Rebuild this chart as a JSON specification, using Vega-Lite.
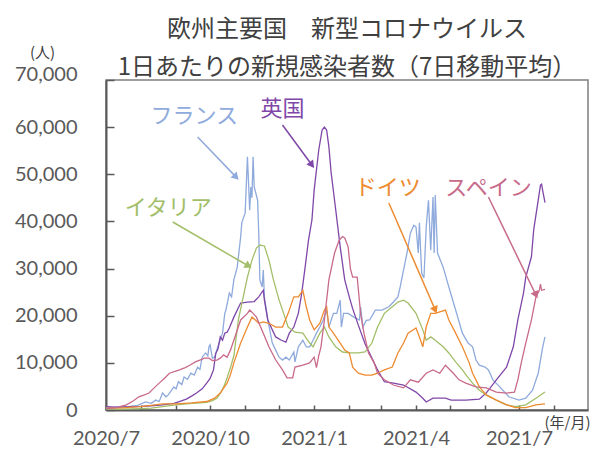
{
  "$schema": "https://vega.github.io/schema/vega-lite/v6.json",
  "width": 482,
  "height": 330,
  "autosize": {"type": "none"},
  "padding": {"left": 106, "top": 80, "right": 5, "bottom": 42},
  "background": "white",
  "title": {
    "text": ["欧州主要国　新型コロナウイルス", "1日あたりの新規感染者数（7日移動平均）"],
    "font": "Noto Sans CJK JP",
    "fontSize": 24,
    "fontWeight": "normal",
    "color": "#404040",
    "lineHeight": 38,
    "anchor": "middle",
    "offset": -35
  },
  "config": {"view": {"stroke": "#7f7f7f", "strokeWidth": 1.5}},
  "datasets": {
    "cases": [
      {"c":"fr","d":"2020-07-01","v":500},{"c":"fr","d":"2020-07-08","v":550},{"c":"fr","d":"2020-07-15","v":650},{"c":"fr","d":"2020-07-22","v":750},{"c":"fr","d":"2020-07-29","v":1000},
      {"c":"fr","d":"2020-08-05","v":1700},{"c":"fr","d":"2020-08-10","v":1400},{"c":"fr","d":"2020-08-14","v":2100},{"c":"fr","d":"2020-08-17","v":1800},{"c":"fr","d":"2020-08-20","v":3600},
      {"c":"fr","d":"2020-08-23","v":2800},{"c":"fr","d":"2020-08-25","v":3200},{"c":"fr","d":"2020-08-28","v":4200},{"c":"fr","d":"2020-08-30","v":4900},{"c":"fr","d":"2020-09-01","v":4500},
      {"c":"fr","d":"2020-09-03","v":6000},{"c":"fr","d":"2020-09-06","v":5400},{"c":"fr","d":"2020-09-08","v":7000},{"c":"fr","d":"2020-09-11","v":6500},{"c":"fr","d":"2020-09-14","v":7800},
      {"c":"fr","d":"2020-09-17","v":7400},{"c":"fr","d":"2020-09-20","v":9100},{"c":"fr","d":"2020-09-22","v":8600},{"c":"fr","d":"2020-09-24","v":11200},{"c":"fr","d":"2020-09-27","v":12100},
      {"c":"fr","d":"2020-09-29","v":11500},{"c":"fr","d":"2020-09-30","v":13400},{"c":"fr","d":"2020-10-01","v":13800},{"c":"fr","d":"2020-10-03","v":11000},{"c":"fr","d":"2020-10-05","v":11200},
      {"c":"fr","d":"2020-10-07","v":12800},{"c":"fr","d":"2020-10-09","v":14200},{"c":"fr","d":"2020-10-12","v":16300},{"c":"fr","d":"2020-10-14","v":20500},{"c":"fr","d":"2020-10-15","v":21200},
      {"c":"fr","d":"2020-10-18","v":24800},{"c":"fr","d":"2020-10-20","v":24000},{"c":"fr","d":"2020-10-22","v":27600},{"c":"fr","d":"2020-10-25","v":30300},{"c":"fr","d":"2020-10-28","v":36700},
      {"c":"fr","d":"2020-10-29","v":39700},{"c":"fr","d":"2020-11-01","v":41800},{"c":"fr","d":"2020-11-03","v":53700},{"c":"fr","d":"2020-11-05","v":42400},{"c":"fr","d":"2020-11-06","v":47300},
      {"c":"fr","d":"2020-11-07","v":45000},{"c":"fr","d":"2020-11-08","v":53700},{"c":"fr","d":"2020-11-09","v":47300},{"c":"fr","d":"2020-11-12","v":44500},{"c":"fr","d":"2020-11-13","v":37500},
      {"c":"fr","d":"2020-11-14","v":27600},{"c":"fr","d":"2020-11-16","v":26100},{"c":"fr","d":"2020-11-17","v":29700},{"c":"fr","d":"2020-11-18","v":24000},{"c":"fr","d":"2020-11-21","v":19100},
      {"c":"fr","d":"2020-11-25","v":14200},{"c":"fr","d":"2020-11-28","v":12700},{"c":"fr","d":"2020-12-01","v":11200},{"c":"fr","d":"2020-12-04","v":10600},{"c":"fr","d":"2020-12-07","v":11200},
      {"c":"fr","d":"2020-12-10","v":10600},{"c":"fr","d":"2020-12-14","v":12300},{"c":"fr","d":"2020-12-15","v":10200},{"c":"fr","d":"2020-12-18","v":13400},{"c":"fr","d":"2020-12-22","v":14800},
      {"c":"fr","d":"2020-12-25","v":13400},{"c":"fr","d":"2020-12-28","v":13400},{"c":"fr","d":"2020-12-31","v":14800},{"c":"fr","d":"2021-01-03","v":16300},{"c":"fr","d":"2021-01-06","v":17600},
      {"c":"fr","d":"2021-01-09","v":19100},{"c":"fr","d":"2021-01-12","v":21200},{"c":"fr","d":"2021-01-14","v":17600},{"c":"fr","d":"2021-01-18","v":20500},{"c":"fr","d":"2021-01-21","v":20500},
      {"c":"fr","d":"2021-01-24","v":23300},{"c":"fr","d":"2021-01-25","v":17600},{"c":"fr","d":"2021-01-27","v":20500},{"c":"fr","d":"2021-01-31","v":20500},{"c":"fr","d":"2021-02-05","v":19700},
      {"c":"fr","d":"2021-02-10","v":19100},{"c":"fr","d":"2021-02-11","v":21900},{"c":"fr","d":"2021-02-13","v":17600},{"c":"fr","d":"2021-02-16","v":19000},{"c":"fr","d":"2021-02-19","v":19100},
      {"c":"fr","d":"2021-02-24","v":21200},{"c":"fr","d":"2021-03-02","v":21200},{"c":"fr","d":"2021-03-08","v":21900},{"c":"fr","d":"2021-03-12","v":22900},{"c":"fr","d":"2021-03-16","v":24000},
      {"c":"fr","d":"2021-03-18","v":26100},{"c":"fr","d":"2021-03-21","v":29700},{"c":"fr","d":"2021-03-24","v":33300},{"c":"fr","d":"2021-03-27","v":37500},{"c":"fr","d":"2021-03-30","v":39200},
      {"c":"fr","d":"2021-04-01","v":38800},{"c":"fr","d":"2021-04-03","v":33300},{"c":"fr","d":"2021-04-04","v":39700},{"c":"fr","d":"2021-04-06","v":29000},{"c":"fr","d":"2021-04-08","v":28000},
      {"c":"fr","d":"2021-04-10","v":38800},{"c":"fr","d":"2021-04-12","v":44500},{"c":"fr","d":"2021-04-14","v":33900},{"c":"fr","d":"2021-04-16","v":45200},{"c":"fr","d":"2021-04-17","v":33300},
      {"c":"fr","d":"2021-04-18","v":45600},{"c":"fr","d":"2021-04-20","v":33300},{"c":"fr","d":"2021-04-25","v":30300},{"c":"fr","d":"2021-04-30","v":26100},{"c":"fr","d":"2021-05-06","v":21200},
      {"c":"fr","d":"2021-05-12","v":16300},{"c":"fr","d":"2021-05-17","v":14200},{"c":"fr","d":"2021-05-21","v":13400},{"c":"fr","d":"2021-05-24","v":10600},{"c":"fr","d":"2021-05-27","v":9500},
      {"c":"fr","d":"2021-06-01","v":9100},{"c":"fr","d":"2021-06-04","v":8500},{"c":"fr","d":"2021-06-08","v":6400},{"c":"fr","d":"2021-06-14","v":4900},{"c":"fr","d":"2021-06-22","v":2800},
      {"c":"fr","d":"2021-07-01","v":2100},{"c":"fr","d":"2021-07-07","v":2500},{"c":"fr","d":"2021-07-13","v":4200},{"c":"fr","d":"2021-07-18","v":7800},{"c":"fr","d":"2021-07-22","v":13400},
      {"c":"fr","d":"2021-07-24","v":15500},

      {"c":"uk","d":"2020-07-01","v":700},{"c":"uk","d":"2020-07-10","v":600},{"c":"uk","d":"2020-07-20","v":650},{"c":"uk","d":"2020-08-01","v":750},{"c":"uk","d":"2020-08-10","v":900},
      {"c":"uk","d":"2020-08-20","v":1100},{"c":"uk","d":"2020-08-30","v":1400},{"c":"uk","d":"2020-09-05","v":1900},{"c":"uk","d":"2020-09-10","v":2300},{"c":"uk","d":"2020-09-15","v":3000},
      {"c":"uk","d":"2020-09-19","v":3600},{"c":"uk","d":"2020-09-24","v":4500},{"c":"uk","d":"2020-09-28","v":5700},{"c":"uk","d":"2020-10-01","v":6700},{"c":"uk","d":"2020-10-04","v":8500},
      {"c":"uk","d":"2020-10-06","v":12000},{"c":"uk","d":"2020-10-08","v":13000},{"c":"uk","d":"2020-10-10","v":15500},{"c":"uk","d":"2020-10-12","v":14800},{"c":"uk","d":"2020-10-14","v":16300},
      {"c":"uk","d":"2020-10-16","v":16500},{"c":"uk","d":"2020-10-18","v":17400},{"c":"uk","d":"2020-10-22","v":19700},{"c":"uk","d":"2020-10-28","v":22700},{"c":"uk","d":"2020-11-03","v":22900},
      {"c":"uk","d":"2020-11-09","v":23000},{"c":"uk","d":"2020-11-13","v":24000},{"c":"uk","d":"2020-11-17","v":25400},{"c":"uk","d":"2020-11-18","v":23300},{"c":"uk","d":"2020-11-21","v":19100},
      {"c":"uk","d":"2020-11-25","v":17000},{"c":"uk","d":"2020-11-28","v":15500},{"c":"uk","d":"2020-12-03","v":14800},{"c":"uk","d":"2020-12-07","v":14400},{"c":"uk","d":"2020-12-10","v":16300},
      {"c":"uk","d":"2020-12-14","v":17600},{"c":"uk","d":"2020-12-18","v":20500},{"c":"uk","d":"2020-12-21","v":24800},{"c":"uk","d":"2020-12-24","v":30300},{"c":"uk","d":"2020-12-27","v":36100},
      {"c":"uk","d":"2020-12-30","v":40300},{"c":"uk","d":"2021-01-01","v":46700},{"c":"uk","d":"2021-01-05","v":55100},{"c":"uk","d":"2021-01-08","v":59400},{"c":"uk","d":"2021-01-10","v":60000},
      {"c":"uk","d":"2021-01-12","v":59400},{"c":"uk","d":"2021-01-14","v":55800},{"c":"uk","d":"2021-01-16","v":50300},{"c":"uk","d":"2021-01-19","v":44500},{"c":"uk","d":"2021-01-24","v":34600},
      {"c":"uk","d":"2021-01-28","v":27600},{"c":"uk","d":"2021-02-01","v":24000},{"c":"uk","d":"2021-02-04","v":21500},{"c":"uk","d":"2021-02-09","v":18000},{"c":"uk","d":"2021-02-15","v":14000},
      {"c":"uk","d":"2021-02-21","v":11000},{"c":"uk","d":"2021-02-26","v":8500},{"c":"uk","d":"2021-03-04","v":6000},{"c":"uk","d":"2021-03-12","v":5700},{"c":"uk","d":"2021-03-21","v":5300},
      {"c":"uk","d":"2021-04-01","v":3800},{"c":"uk","d":"2021-04-07","v":2500},{"c":"uk","d":"2021-04-10","v":1700},{"c":"uk","d":"2021-04-16","v":2500},{"c":"uk","d":"2021-04-27","v":2500},
      {"c":"uk","d":"2021-05-02","v":2100},{"c":"uk","d":"2021-05-15","v":2100},{"c":"uk","d":"2021-05-27","v":2300},{"c":"uk","d":"2021-06-02","v":3600},{"c":"uk","d":"2021-06-11","v":6400},
      {"c":"uk","d":"2021-06-20","v":9100},{"c":"uk","d":"2021-06-26","v":13400},{"c":"uk","d":"2021-06-30","v":19100},{"c":"uk","d":"2021-07-05","v":24800},{"c":"uk","d":"2021-07-07","v":28200},
      {"c":"uk","d":"2021-07-12","v":32500},{"c":"uk","d":"2021-07-14","v":38200},{"c":"uk","d":"2021-07-18","v":44500},{"c":"uk","d":"2021-07-20","v":47700},{"c":"uk","d":"2021-07-21","v":47900},
      {"c":"uk","d":"2021-07-22","v":46500},{"c":"uk","d":"2021-07-24","v":44000},

      {"c":"it","d":"2020-07-01","v":200},{"c":"it","d":"2020-07-15","v":200},{"c":"it","d":"2020-07-31","v":300},{"c":"it","d":"2020-08-10","v":400},{"c":"it","d":"2020-08-20","v":700},
      {"c":"it","d":"2020-09-01","v":1100},{"c":"it","d":"2020-09-15","v":1400},{"c":"it","d":"2020-09-28","v":1600},{"c":"it","d":"2020-10-03","v":2000},{"c":"it","d":"2020-10-07","v":2500},
      {"c":"it","d":"2020-10-10","v":3500},{"c":"it","d":"2020-10-13","v":4900},{"c":"it","d":"2020-10-16","v":6800},{"c":"it","d":"2020-10-19","v":9000},{"c":"it","d":"2020-10-22","v":11500},
      {"c":"it","d":"2020-10-26","v":19100},{"c":"it","d":"2020-10-31","v":24800},{"c":"it","d":"2020-11-03","v":28200},{"c":"it","d":"2020-11-07","v":31800},{"c":"it","d":"2020-11-11","v":34400},
      {"c":"it","d":"2020-11-14","v":35000},{"c":"it","d":"2020-11-18","v":34800},{"c":"it","d":"2020-11-22","v":31800},{"c":"it","d":"2020-11-26","v":27600},{"c":"it","d":"2020-12-01","v":23300},
      {"c":"it","d":"2020-12-05","v":20500},{"c":"it","d":"2020-12-09","v":17600},{"c":"it","d":"2020-12-15","v":16500},{"c":"it","d":"2020-12-22","v":16300},{"c":"it","d":"2020-12-28","v":14200},
      {"c":"it","d":"2020-12-31","v":13400},{"c":"it","d":"2021-01-06","v":16300},{"c":"it","d":"2021-01-10","v":17600},{"c":"it","d":"2021-01-14","v":15500},{"c":"it","d":"2021-01-20","v":13400},
      {"c":"it","d":"2021-01-26","v":12300},{"c":"it","d":"2021-02-01","v":12100},{"c":"it","d":"2021-02-09","v":12100},{"c":"it","d":"2021-02-15","v":12300},{"c":"it","d":"2021-02-21","v":14200},
      {"c":"it","d":"2021-02-26","v":17600},{"c":"it","d":"2021-03-04","v":20500},{"c":"it","d":"2021-03-11","v":21900},{"c":"it","d":"2021-03-16","v":22900},{"c":"it","d":"2021-03-21","v":23300},
      {"c":"it","d":"2021-03-25","v":22700},{"c":"it","d":"2021-04-01","v":20500},{"c":"it","d":"2021-04-07","v":17000},{"c":"it","d":"2021-04-10","v":14800},{"c":"it","d":"2021-04-14","v":15500},
      {"c":"it","d":"2021-04-18","v":14800},{"c":"it","d":"2021-04-25","v":13400},{"c":"it","d":"2021-04-30","v":12100},{"c":"it","d":"2021-05-06","v":10200},{"c":"it","d":"2021-05-12","v":8500},
      {"c":"it","d":"2021-05-16","v":7200},{"c":"it","d":"2021-05-21","v":5700},{"c":"it","d":"2021-05-27","v":4200},{"c":"it","d":"2021-06-02","v":3200},{"c":"it","d":"2021-06-11","v":2100},
      {"c":"it","d":"2021-06-20","v":1100},{"c":"it","d":"2021-06-28","v":700},{"c":"it","d":"2021-07-07","v":1100},{"c":"it","d":"2021-07-16","v":2500},{"c":"it","d":"2021-07-24","v":3800},

      {"c":"de","d":"2020-07-01","v":400},{"c":"de","d":"2020-07-15","v":450},{"c":"de","d":"2020-07-31","v":700},{"c":"de","d":"2020-08-10","v":1000},{"c":"de","d":"2020-08-20","v":1300},
      {"c":"de","d":"2020-09-01","v":1300},{"c":"de","d":"2020-09-15","v":1500},{"c":"de","d":"2020-09-28","v":1800},{"c":"de","d":"2020-10-05","v":2500},{"c":"de","d":"2020-10-10","v":3600},
      {"c":"de","d":"2020-10-16","v":5700},{"c":"de","d":"2020-10-19","v":7500},{"c":"de","d":"2020-10-22","v":10000},{"c":"de","d":"2020-10-28","v":14200},{"c":"de","d":"2020-11-03","v":17600},
      {"c":"de","d":"2020-11-07","v":19700},{"c":"de","d":"2020-11-10","v":19100},{"c":"de","d":"2020-11-13","v":18400},{"c":"de","d":"2020-11-17","v":18700},{"c":"de","d":"2020-11-22","v":18400},
      {"c":"de","d":"2020-11-28","v":17600},{"c":"de","d":"2020-12-04","v":17600},{"c":"de","d":"2020-12-09","v":20500},{"c":"de","d":"2020-12-14","v":24000},{"c":"de","d":"2020-12-18","v":24000},
      {"c":"de","d":"2020-12-22","v":25400},{"c":"de","d":"2020-12-25","v":21900},{"c":"de","d":"2020-12-28","v":19100},{"c":"de","d":"2021-01-01","v":17000},{"c":"de","d":"2021-01-06","v":18400},
      {"c":"de","d":"2021-01-10","v":21200},{"c":"de","d":"2021-01-12","v":21900},{"c":"de","d":"2021-01-14","v":17600},{"c":"de","d":"2021-01-18","v":16300},{"c":"de","d":"2021-01-24","v":14200},
      {"c":"de","d":"2021-01-28","v":12700},{"c":"de","d":"2021-02-01","v":12100},{"c":"de","d":"2021-02-04","v":9100},{"c":"de","d":"2021-02-09","v":7800},{"c":"de","d":"2021-02-15","v":7400},
      {"c":"de","d":"2021-02-21","v":7400},{"c":"de","d":"2021-02-26","v":7800},{"c":"de","d":"2021-03-04","v":8500},{"c":"de","d":"2021-03-11","v":9100},{"c":"de","d":"2021-03-16","v":12100},
      {"c":"de","d":"2021-03-21","v":14200},{"c":"de","d":"2021-03-25","v":16300},{"c":"de","d":"2021-04-01","v":17400},{"c":"de","d":"2021-04-04","v":15500},{"c":"de","d":"2021-04-07","v":13400},
      {"c":"de","d":"2021-04-10","v":17600},{"c":"de","d":"2021-04-14","v":20500},{"c":"de","d":"2021-04-18","v":20500},{"c":"de","d":"2021-04-22","v":20800},{"c":"de","d":"2021-04-27","v":21200},
      {"c":"de","d":"2021-04-30","v":19100},{"c":"de","d":"2021-05-06","v":16300},{"c":"de","d":"2021-05-12","v":13400},{"c":"de","d":"2021-05-18","v":10000},{"c":"de","d":"2021-05-21","v":7800},
      {"c":"de","d":"2021-05-27","v":4900},{"c":"de","d":"2021-06-02","v":3200},{"c":"de","d":"2021-06-11","v":2100},{"c":"de","d":"2021-06-20","v":1100},{"c":"de","d":"2021-06-28","v":500},
      {"c":"de","d":"2021-07-07","v":500},{"c":"de","d":"2021-07-16","v":1100},{"c":"de","d":"2021-07-24","v":1300},

      {"c":"es","d":"2020-07-01","v":300},{"c":"es","d":"2020-07-10","v":500},{"c":"es","d":"2020-07-19","v":1100},{"c":"es","d":"2020-07-25","v":1900},{"c":"es","d":"2020-07-30","v":2800},
      {"c":"es","d":"2020-08-04","v":3200},{"c":"es","d":"2020-08-08","v":3600},{"c":"es","d":"2020-08-13","v":4800},{"c":"es","d":"2020-08-17","v":5700},{"c":"es","d":"2020-08-22","v":6800},
      {"c":"es","d":"2020-08-26","v":7800},{"c":"es","d":"2020-08-31","v":8200},{"c":"es","d":"2020-09-04","v":8500},{"c":"es","d":"2020-09-09","v":9000},{"c":"es","d":"2020-09-13","v":9500},
      {"c":"es","d":"2020-09-18","v":10200},{"c":"es","d":"2020-09-22","v":10600},{"c":"es","d":"2020-09-26","v":11000},{"c":"es","d":"2020-09-30","v":11000},{"c":"es","d":"2020-10-03","v":10500},
      {"c":"es","d":"2020-10-07","v":10600},{"c":"es","d":"2020-10-10","v":11000},{"c":"es","d":"2020-10-13","v":11700},{"c":"es","d":"2020-10-16","v":11200},{"c":"es","d":"2020-10-19","v":12700},
      {"c":"es","d":"2020-10-22","v":14800},{"c":"es","d":"2020-10-28","v":19100},{"c":"es","d":"2020-11-03","v":20500},{"c":"es","d":"2020-11-05","v":21200},{"c":"es","d":"2020-11-08","v":20500},
      {"c":"es","d":"2020-11-11","v":19700},{"c":"es","d":"2020-11-17","v":16300},{"c":"es","d":"2020-11-22","v":13400},{"c":"es","d":"2020-11-28","v":10600},{"c":"es","d":"2020-12-04","v":8500},
      {"c":"es","d":"2020-12-08","v":6800},{"c":"es","d":"2020-12-13","v":6800},{"c":"es","d":"2020-12-15","v":9100},{"c":"es","d":"2020-12-22","v":9500},{"c":"es","d":"2020-12-28","v":10000},
      {"c":"es","d":"2021-01-01","v":11200},{"c":"es","d":"2021-01-03","v":9000},{"c":"es","d":"2021-01-05","v":11500},{"c":"es","d":"2021-01-07","v":13400},{"c":"es","d":"2021-01-10","v":19100},
      {"c":"es","d":"2021-01-14","v":27600},{"c":"es","d":"2021-01-19","v":33300},{"c":"es","d":"2021-01-23","v":36000},{"c":"es","d":"2021-01-26","v":36800},{"c":"es","d":"2021-01-28","v":36500},
      {"c":"es","d":"2021-01-31","v":34600},{"c":"es","d":"2021-02-02","v":30000},{"c":"es","d":"2021-02-04","v":28200},{"c":"es","d":"2021-02-08","v":28200},{"c":"es","d":"2021-02-11","v":20500},
      {"c":"es","d":"2021-02-14","v":16300},{"c":"es","d":"2021-02-18","v":12100},{"c":"es","d":"2021-02-23","v":10000},{"c":"es","d":"2021-02-26","v":7800},{"c":"es","d":"2021-03-04","v":6400},
      {"c":"es","d":"2021-03-12","v":5300},{"c":"es","d":"2021-03-21","v":4700},{"c":"es","d":"2021-03-27","v":6400},{"c":"es","d":"2021-04-03","v":5900},{"c":"es","d":"2021-04-10","v":7800},
      {"c":"es","d":"2021-04-16","v":8500},{"c":"es","d":"2021-04-22","v":7800},{"c":"es","d":"2021-04-27","v":9500},{"c":"es","d":"2021-05-04","v":7800},{"c":"es","d":"2021-05-09","v":6400},
      {"c":"es","d":"2021-05-15","v":5700},{"c":"es","d":"2021-05-24","v":4900},{"c":"es","d":"2021-06-02","v":4700},{"c":"es","d":"2021-06-11","v":3800},{"c":"es","d":"2021-06-20","v":3600},
      {"c":"es","d":"2021-06-27","v":3800},{"c":"es","d":"2021-06-30","v":6400},{"c":"es","d":"2021-07-03","v":10000},{"c":"es","d":"2021-07-07","v":14200},{"c":"es","d":"2021-07-12","v":19100},
      {"c":"es","d":"2021-07-16","v":24000},{"c":"es","d":"2021-07-19","v":25400},{"c":"es","d":"2021-07-20","v":26700},{"c":"es","d":"2021-07-21","v":25400},{"c":"es","d":"2021-07-24","v":25600}
    ],
    "notes": [
      {"c":"fr","label":"フランス","td":"2020-09-17","tv":62360,"a1":"2020-09-20","b1":57900,"a2":"2020-10-24","b2":49400},
      {"c":"uk","label":"英国","td":"2020-12-04","tv":63850,"a1":"2020-12-04","b1":60450,"a2":"2020-12-30","b2":51970},
      {"c":"it","label":"イタリア","td":"2020-08-25","tv":42850,"a1":"2020-08-29","b1":39880,"a2":"2020-11-04","b2":30545},
      {"c":"de","label":"ドイツ","td":"2021-03-07","tv":47090,"a1":"2021-03-08","b1":43900,"a2":"2021-04-18","b2":21200},
      {"c":"es","label":"スペイン","td":"2021-06-04","tv":47090,"a1":"2021-06-04","b1":45180,"a2":"2021-07-16","b2":24400}
    ]
  },
  "layer": [
    {
      "data": {"name": "cases"},
      "mark": {"type": "line", "strokeWidth": 1.3},
      "encoding": {
        "x": {
          "field": "d", "type": "temporal",
          "scale": {"type": "utc", "domain": [{"year": 2020, "month": 7, "date": 1, "utc": true}, {"year": 2021, "month": 8, "date": 31, "utc": true}]},
          "axis": {
            "title": "(年/月)", "titleFont": "Noto Sans CJK JP", "titleFontSize": 15, "titleFontWeight": "normal", "titleColor": "#404040",
            "titleAngle": 0, "titleX": 461, "titleY": 12, "titleAlign": "center", "titleBaseline": "middle",
            "tickCount": {"interval": "month", "step": 1},
            "labelExpr": "utcmonth(datum.value) % 3 == 0 ? utcFormat(datum.value, '%Y/%-m') : ''",
            "labelFont": "Lato", "labelFontSize": 20, "labelColor": "#595959", "labelPadding": 23,
            "labelOverlap": false, "labelFlush": false, "labelBound": false,
            "tickSize": -5, "tickColor": "#595959", "tickWidth": 1.5,
            "domainColor": "#595959", "domainWidth": 2, "grid": false
          }
        },
        "y": {
          "field": "v", "type": "quantitative",
          "scale": {"domain": [0, 70000], "nice": false},
          "axis": {
            "title": "(人)", "titleFont": "Noto Sans CJK JP", "titleFontSize": 15, "titleFontWeight": "normal", "titleColor": "#404040",
            "titleAngle": 0, "titleX": -64, "titleY": -28, "titleAlign": "center", "titleBaseline": "middle",
            "values": [0, 10000, 20000, 30000, 40000, 50000, 60000, 70000],
            "format": ",d",
            "labelFont": "Lato", "labelFontSize": 20, "labelColor": "#595959", "labelPadding": 37,
            "labelBaseline": "middle",
            "labelOffset": {"condition": {"test": "datum.value == 70000", "value": -6}, "value": 0},
            "labelOverlap": false, "labelFlush": false,
            "tickSize": -8, "tickColor": "#595959", "tickWidth": 1.5,
            "domainColor": "#595959", "domainWidth": 2, "grid": false
          }
        },
        "color": {
          "field": "c", "type": "nominal",
          "scale": {"domain": ["fr", "uk", "it", "de", "es"], "range": ["#8FAADC", "#7F47A8", "#A3BE68", "#ED8B30", "#C86A8A"]},
          "legend": null
        }
      }
    },
    {
      "data": {"name": "notes"},
      "mark": {"type": "rule", "strokeWidth": 1.5},
      "encoding": {
        "x": {"field": "a1", "type": "temporal"},
        "y": {"field": "b1", "type": "quantitative"},
        "x2": {"field": "a2"},
        "y2": {"field": "b2"},
        "color": {"field": "c", "type": "nominal", "legend": null}
      }
    },
    {
      "data": {"name": "notes"},
      "mark": {"type": "text", "font": "Noto Sans CJK JP", "fontSize": 22, "align": "center", "baseline": "middle"},
      "encoding": {
        "x": {"field": "td", "type": "temporal"},
        "y": {"field": "tv", "type": "quantitative"},
        "text": {"field": "label"},
        "color": {"field": "c", "type": "nominal", "legend": null}
      }
    },
    {
      "data": {"name": "notes"},
      "transform": [{"filter": "datum.c == 'fr'"}],
      "mark": {"type": "point", "shape": "triangle-up", "filled": true, "opacity": 1, "size": 70, "angle": 136},
      "encoding": {"x": {"field": "a2", "type": "temporal"}, "y": {"field": "b2", "type": "quantitative"}, "color": {"field": "c", "type": "nominal", "legend": null}}
    },
    {
      "data": {"name": "notes"},
      "transform": [{"filter": "datum.c == 'uk'"}],
      "mark": {"type": "point", "shape": "triangle-up", "filled": true, "opacity": 1, "size": 70, "angle": 143},
      "encoding": {"x": {"field": "a2", "type": "temporal"}, "y": {"field": "b2", "type": "quantitative"}, "color": {"field": "c", "type": "nominal", "legend": null}}
    },
    {
      "data": {"name": "notes"},
      "transform": [{"filter": "datum.c == 'it'"}],
      "mark": {"type": "point", "shape": "triangle-up", "filled": true, "opacity": 1, "size": 70, "angle": 120},
      "encoding": {"x": {"field": "a2", "type": "temporal"}, "y": {"field": "b2", "type": "quantitative"}, "color": {"field": "c", "type": "nominal", "legend": null}}
    },
    {
      "data": {"name": "notes"},
      "transform": [{"filter": "datum.c == 'de'"}],
      "mark": {"type": "point", "shape": "triangle-up", "filled": true, "opacity": 1, "size": 70, "angle": 157},
      "encoding": {"x": {"field": "a2", "type": "temporal"}, "y": {"field": "b2", "type": "quantitative"}, "color": {"field": "c", "type": "nominal", "legend": null}}
    },
    {
      "data": {"name": "notes"},
      "transform": [{"filter": "datum.c == 'es'"}],
      "mark": {"type": "point", "shape": "triangle-up", "filled": true, "opacity": 1, "size": 70, "angle": 154},
      "encoding": {"x": {"field": "a2", "type": "temporal"}, "y": {"field": "b2", "type": "quantitative"}, "color": {"field": "c", "type": "nominal", "legend": null}}
    }
  ]
}
